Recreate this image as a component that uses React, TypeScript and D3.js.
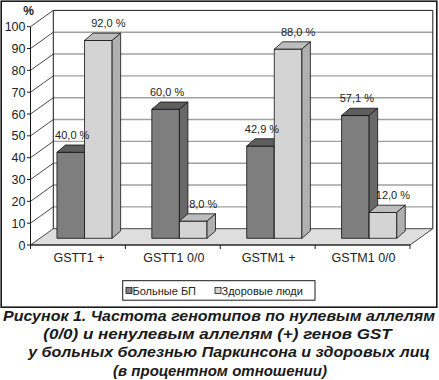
import React from "react";
import * as d3 from "d3";

const categories = ["GSTT1 +", "GSTT1 0/0", "GSTM1 +", "GSTM1 0/0"];
const seriesNames = ["Больные БП", "Здоровые люди"];
const patients = [40.0, 60.0, 42.9, 57.1];
const healthy = [92.0, 8.0, 88.0, 12.0];
const yTicks = [0, 10, 20, 30, 40, 50, 60, 70, 80, 90, 100];
const yAxisTitle = "%";
const captionLines = [
  "Рисунок 1. Частота генотипов по нулевым аллелям",
  "(0/0) и ненулевым аллелям (+) генов GST",
  "у больных болезнью Паркинсона и здоровых лиц",
  "(в процентном отношении)",
];

const W = 439;
const H = 380;
const FONT = "'Liberation Sans', Arial, sans-serif";

// geometry
const X0 = 30.5;
const X1 = 410;
const Y0 = 245;
const Y100 = 26.7;
const DX = 22.8; // wall depth
const DY = -16.3;
const BAR_OFF_X = 6.6;
const BAR_BASE = 238.3;
const BAR_W = 27.6;
const BDX = 8.5;
const BDY = -7.3;

const colors = [
  { front: "#7e7e7e", top: "#5e5e5e", side: "#686868" },
  { front: "#d4d4d4", top: "#bdbdbd", side: "#b0b0b0" },
];

const fmt = (v: number) => v.toFixed(1).replace(".", ",") + " %";

export default function App() {
  const x = d3.scaleBand<string>().domain(categories).range([X0, X1]).paddingInner(0).paddingOuter(0);
  const y = d3.scaleLinear().domain([0, 100]).range([Y0, Y100]);
  const yb = d3.scaleLinear().domain([0, 100]).range([BAR_BASE, BAR_BASE - 215]);
  const series = [patients, healthy];
  const bw = x.bandwidth();

  const backLeft = X0 + DX;
  const backRight = X1 + DX;
  const backTop = y(100) + DY;
  const backBottom = y(0) + DY;

  const bars: React.ReactNode[] = [];
  const labels: React.ReactNode[] = [];
  categories.forEach((c, ci) => {
    const center = (x(c) as number) + bw / 2 + BAR_OFF_X;
    const sub = d3.scaleBand<number>().domain([0, 1]).range([center - BAR_W, center + BAR_W]);
    series.forEach((vals, si) => {
      const v = vals[ci];
      const x0 = sub(si) as number;
      const w = sub.bandwidth();
      const yt = yb(v);
      const yB = yb(0);
      const col = colors[si];
      bars.push(
        <g key={`b${ci}-${si}`} stroke="#111" strokeWidth={0.8} strokeLinejoin="round">
          <rect x={x0} y={yt} width={w} height={yB - yt} fill={col.front} />
          <polygon
            points={`${x0},${yt} ${x0 + BDX},${yt + BDY} ${x0 + w + BDX},${yt + BDY} ${x0 + w},${yt}`}
            fill={col.top}
          />
          <polygon
            points={`${x0 + w},${yt} ${x0 + w + BDX},${yt + BDY} ${x0 + w + BDX},${yB + BDY} ${x0 + w},${yB}`}
            fill={col.side}
          />
        </g>
      );
      const lx = x0 + w / 2 + (si === 0 ? 1.5 : 10);
      labels.push(
        <text key={`l${ci}-${si}`} x={lx} y={yt + BDY - 6} textAnchor="middle" fontSize={11} fill="#222">
          {fmt(v)}
        </text>
      );
    });
  });

  const capX = [219, 217.5, 229, 220];
  const capW = [432, 348.4, 401.7, 0];

  return (
    <svg
      width={W}
      height={H}
      viewBox={`0 0 ${W} ${H}`}
      style={{ position: "absolute", left: 0, top: 0, background: "#fff" }}
      fontFamily={FONT}
    >
      <rect x={0} y={0} width={W} height={H} fill="#fff" />
      {/* outer frame */}
      <rect x={1.2} y={1.2} width={435.6} height={306} fill="none" stroke="#1a1a1a" strokeWidth={1.6} />

      {/* back wall */}
      <rect x={backLeft} y={backTop} width={backRight - backLeft} height={backBottom - backTop} fill="#fff" />
      {yTicks
        .filter((t) => t > 0 && t < 100)
        .map((t) => (
          <line key={`g${t}`} x1={backLeft} x2={backRight} y1={y(t) + DY} y2={y(t) + DY} stroke="#a0a0a0" strokeWidth={1.4} />
        ))}
      <polyline
        points={`${backLeft},${backBottom} ${backLeft},${backTop} ${backRight},${backTop} ${backRight},${backBottom}`}
        fill="none"
        stroke="#1a1a1a"
        strokeWidth={1}
      />
      {/* side wall diagonals */}
      {yTicks
        .filter((t) => t > 0)
        .map((t) => (
          <line key={`d${t}`} x1={X0} y1={y(t)} x2={backLeft} y2={y(t) + DY} stroke="#1a1a1a" strokeWidth={0.8} />
        ))}
      {/* floor */}
      <polygon
        points={`${X0},${y(0)} ${X1},${y(0)} ${backRight},${backBottom} ${backLeft},${backBottom}`}
        fill="#dedede"
        stroke="#1a1a1a"
        strokeWidth={0.8}
      />
      {/* front axis */}
      <line x1={X0} x2={X0} y1={y(100)} y2={y(0)} stroke="#1a1a1a" strokeWidth={1} />
      <line x1={X0} x2={X1} y1={y(0)} y2={y(0)} stroke="#1a1a1a" strokeWidth={1} />
      {yTicks.map((t) => (
        <g key={`t${t}`}>
          <line x1={X0 - 3.5} x2={X0} y1={y(t)} y2={y(t)} stroke="#1a1a1a" strokeWidth={1} />
          <text x={25.5} y={y(t)} dy="0.36em" textAnchor="end" fontSize={12.5} fill="#222">
            {t}
          </text>
        </g>
      ))}
      {[...categories.map((c) => x(c) as number), X1].map((px, i) => (
        <line key={`ct${i}`} x1={px} x2={px} y1={y(0)} y2={y(0) + 4} stroke="#1a1a1a" strokeWidth={1} />
      ))}
      <text x={28.5} y={15} textAnchor="middle" fontSize={12} fontWeight="bold" fill="#222">
        {yAxisTitle}
      </text>

      {bars}
      {labels}

      {categories.map((c) => (
        <text key={`cl${c}`} x={(x(c) as number) + bw / 2 + 1} y={262} textAnchor="middle" fontSize={12.5} fill="#222">
          {c}
        </text>
      ))}

      {/* legend */}
      <rect x={122.7} y={280.7} width={192.3} height={19.5} fill="#fff" stroke="#1a1a1a" strokeWidth={1} />
      {seriesNames.map((s, i) => {
        const lx = i === 0 ? 126 : 215;
        return (
          <g key={`lg${i}`}>
            <rect x={lx} y={287.5} width={6} height={6} fill={colors[i].front} stroke="#1a1a1a" strokeWidth={0.8} />
            <text x={lx + 6.5} y={295} fontSize={11} fill="#222">
              {s}
            </text>
          </g>
        );
      })}

      {/* caption */}
      {captionLines.map((l, i) => (
        <text
          key={`cap${i}`}
          x={capX[i]}
          y={320.7 + i * 18.3}
          textAnchor="middle"
          fontSize={15}
          fontWeight="bold"
          fontStyle="italic"
          fill="#1a1a1a"
          {...(capW[i] > 0 ? { textLength: capW[i], lengthAdjust: "spacingAndGlyphs" } : {})}
        >
          {l}
        </text>
      ))}
    </svg>
  );
}
